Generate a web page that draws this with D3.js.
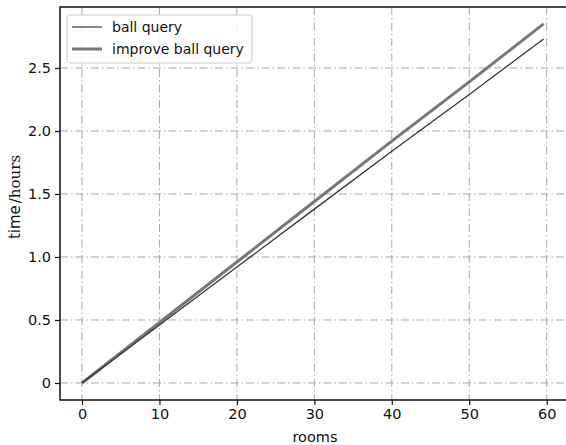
<!DOCTYPE html>
<html><head><meta charset="utf-8">
<script src="https://cdn.jsdelivr.net/npm/d3@7"></script>
<style>body{margin:0;background:#fff;}svg{display:block;}</style>
</head><body>
<script>
const rooms = [0, 10, 20, 30, 40, 50, 59.6];
const ballQuery = [0, 0.46, 0.92, 1.38, 1.84, 2.29, 2.73];
const improveBallQuery = [0, 0.48, 0.96, 1.44, 1.92, 2.39, 2.85];
const xTicks = [0, 10, 20, 30, 40, 50, 60];
const yTicks = [0, 0.5, 1.0, 1.5, 2.0, 2.5];
const yTickLabels = ["0", "0.5", "1.0", "1.5", "2.0", "2.5"];
const seriesNames = ["ball query", "improve ball query"];

const W = 566, H = 445;
const L = 60, R = 568, T = 7, B = 400;
const svg = d3.select("body").append("svg").attr("width", W).attr("height", H);
const x = d3.scaleLinear().domain([-2.84, 62.75]).range([L, R]);
const y = d3.scaleLinear().domain([-0.135, 2.984]).range([B, T]);
const font = "DejaVu Sans, sans-serif";

// grid
const g = svg.append("g");
g.selectAll("line.gx").data(xTicks).join("line")
  .attr("x1", d => x(d)).attr("x2", d => x(d)).attr("y1", T).attr("y2", B)
  .attr("stroke", "#a8a8a8").attr("stroke-width", 1).attr("stroke-dasharray", "8,3,1.5,3");
g.selectAll("line.gy").data(yTicks).join("line")
  .attr("y1", d => y(d)).attr("y2", d => y(d)).attr("x1", L).attr("x2", R)
  .attr("stroke", "#a8a8a8").attr("stroke-width", 1).attr("stroke-dasharray", "8,3,1.5,3");

// lines
const line = d3.line().x(d => x(d[0])).y(d => y(d[1]));
svg.append("path").datum(rooms.map((r, i) => [r, improveBallQuery[i]]))
  .attr("d", line).attr("fill", "none").attr("stroke", "#777").attr("stroke-width", 3);
svg.append("path").datum(rooms.map((r, i) => [r, ballQuery[i]]))
  .attr("d", line).attr("fill", "none").attr("stroke", "#333").attr("stroke-width", 1.3);

// axes
const xAxis = d3.axisBottom(x).tickValues(xTicks).tickSize(5).tickPadding(4).tickFormat(d3.format("d"));
const yAxis = d3.axisLeft(y).tickValues(yTicks).tickSize(5).tickPadding(4).tickFormat((d, i) => yTickLabels[i]);
const gx = svg.append("g").attr("transform", `translate(0,${B})`).call(xAxis);
const gy = svg.append("g").attr("transform", `translate(${L},0)`).call(yAxis);
[gx, gy].forEach(a => {
  a.select(".domain").remove();
  a.selectAll("text").attr("font-family", font).attr("font-size", 14.5).attr("fill", "#111");
  a.selectAll("line").attr("stroke", "#111").attr("stroke-width", 1.2);
});
// spines
svg.append("rect").attr("x", L).attr("y", T).attr("width", R - L).attr("height", B - T)
  .attr("fill", "none").attr("stroke", "#111").attr("stroke-width", 1.5);

// labels
svg.append("text").attr("x", 315).attr("y", 442).attr("text-anchor", "middle")
  .attr("font-family", font).attr("font-size", 14.5).attr("fill", "#111").text("rooms");
const yl = svg.append("text").attr("transform", `translate(20,197) rotate(-90)`)
  .attr("text-anchor", "middle").attr("font-size", 15).attr("fill", "#111");
yl.append("tspan").attr("font-family", font).text("time");
yl.append("tspan").attr("font-family", "DejaVu Serif, serif").attr("dx", 2).text("/hours");

// legend
const lg = svg.append("g");
lg.append("rect").attr("x", 67).attr("y", 15).attr("width", 185).attr("height", 48).attr("rx", 3)
  .attr("fill", "#fff").attr("fill-opacity", 0.85).attr("stroke", "#ccc");
const lw = [1.5, 3], lc = ["#666", "#777"];
seriesNames.forEach((n, i) => {
  const yy = 27 + i * 22;
  lg.append("line").attr("x1", 72).attr("x2", 102).attr("y1", yy).attr("y2", yy)
    .attr("stroke", lc[i]).attr("stroke-width", lw[i]);
  lg.append("text").attr("x", 112).attr("y", yy + 5).attr("font-family", font).attr("font-size", 14)
    .attr("fill", "#111").text(n);
});
</script>
</body></html>
